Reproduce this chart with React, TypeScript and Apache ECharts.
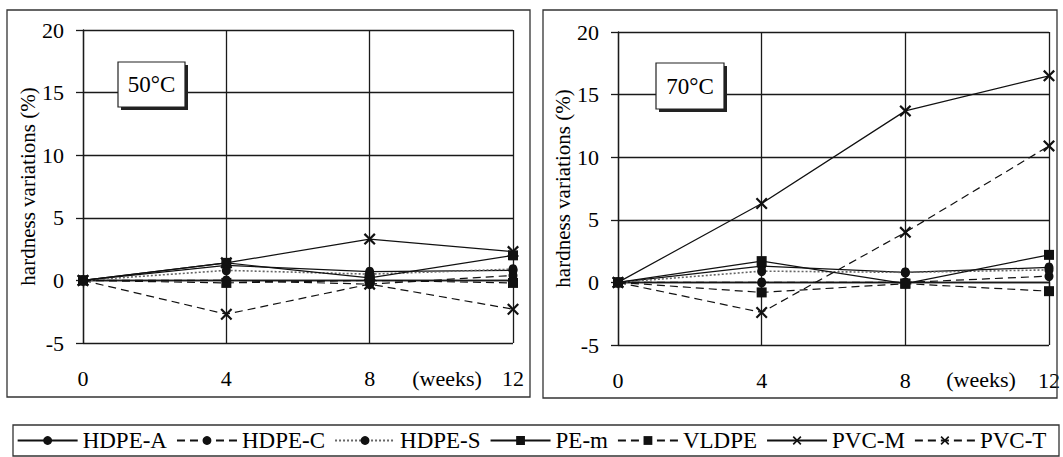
import React, { useEffect, useRef } from "react";
import * as echarts from "echarts";

// ---- data ----
const weeks = [0, 4, 8, 12];
const yTicks = [-5, 0, 5, 10, 15, 20];
const seriesNames = ["HDPE-A", "HDPE-C", "HDPE-S", "PE-m", "VLDPE", "PVC-M", "PVC-T"];

// 50 °C
const hdpeA50 = [0, 1.2, 0.7, 0.8];
const hdpeC50 = [0, 0.0, -0.3, 0.4];
const hdpeS50 = [0, 0.8, 0.5, 0.9];
const pem50 = [0, 1.4, 0.2, 2.0];
const vldpe50 = [0, -0.2, 0.0, -0.2];
const pvcM50 = [0, 1.4, 3.3, 2.3];
const pvcT50 = [0, -2.7, -0.3, -2.3];

// 70 °C
const hdpeA70 = [0, 1.3, 0.8, 1.2];
const hdpeC70 = [0, 0.0, 0.0, 0.5];
const hdpeS70 = [0, 0.9, 0.8, 1.0];
const pem70 = [0, 1.7, -0.1, 2.2];
const vldpe70 = [0, -0.8, -0.1, -0.7];
const pvcM70 = [0, 6.3, 13.7, 16.5];
const pvcT70 = [0, -2.4, 4.0, 10.9];

const panelTitles = ["50°C", "70°C"];
const xUnit = "(weeks)";
const yTitle = "hardness variations (%)";

const FONT = "Liberation Serif";
const X_SYMBOL =
  "path://M0,1.3 L1.3,0 L5,3.7 L8.7,0 L10,1.3 L6.3,5 L10,8.7 L8.7,10 L5,6.3 L1.3,10 L0,8.7 L3.7,5 Z";

const styles: Record<string, { line: any; symbol: string; size: any }> = {
  "HDPE-A": { line: { type: "solid", color: "#111", width: 1.2 }, symbol: "circle", size: [9, 10] },
  "HDPE-C": { line: { type: [8, 5], color: "#111", width: 1.2 }, symbol: "circle", size: [9, 10] },
  "HDPE-S": { line: { type: [2, 2], color: "#666", width: 1.6 }, symbol: "circle", size: [9, 10] },
  "PE-m": { line: { type: "solid", color: "#111", width: 1.2 }, symbol: "rect", size: 10 },
  VLDPE: { line: { type: [8, 5], color: "#111", width: 1.2 }, symbol: "rect", size: 10 },
  "PVC-M": { line: { type: "solid", color: "#111", width: 1.2 }, symbol: X_SYMBOL, size: 12 },
  "PVC-T": { line: { type: [8, 5], color: "#111", width: 1.2 }, symbol: X_SYMBOL, size: 12 },
};

const panels = [
  [hdpeA50, hdpeC50, hdpeS50, pem50, vldpe50, pvcM50, pvcT50],
  [hdpeA70, hdpeC70, hdpeS70, pem70, vldpe70, pvcM70, pvcT70],
];

export default function App() {
  const ref = useRef<HTMLDivElement>(null);

  useEffect(() => {
    if (!ref.current) return;
    const chart = echarts.init(ref.current, undefined, { renderer: "svg" });

    const gridDefs = [
      { left: 83, top: 30, width: 430, height: 313 },
      { left: 618, top: 32, width: 431, height: 313 },
    ];

    const axisColor = "#1a1a1a";

    const xAxis = gridDefs.map((_, i) => ({
      type: "value",
      gridIndex: i,
      min: 0,
      max: 12,
      interval: 4,
      axisLine: { show: true, lineStyle: { color: axisColor, width: 1.3 } },
      axisTick: { show: true, length: 7, lineStyle: { color: axisColor, width: 1.3 } },
      splitLine: { show: true, lineStyle: { color: axisColor, width: 1.3 } },
      axisLabel: {
        margin: 24,
        fontFamily: FONT,
        fontSize: 22,
        color: "#000",
        formatter: (v: number) => (weeks.includes(v) ? String(v) : ""),
      },
    }));

    const yAxis = gridDefs.map((_, i) => ({
      type: "value",
      gridIndex: i,
      min: yTicks[0],
      max: yTicks[yTicks.length - 1],
      interval: 5,
      name: yTitle,
      nameLocation: "middle",
      nameGap: 35,
      nameTextStyle: { fontFamily: FONT, fontSize: 21, color: "#000" },
      axisLine: { show: true, lineStyle: { color: axisColor, width: 1.3 } },
      axisTick: { show: true, length: 7, lineStyle: { color: axisColor, width: 1.3 } },
      splitLine: { show: true, lineStyle: { color: axisColor, width: 1.3 } },
      axisLabel: { margin: 19, fontFamily: FONT, fontSize: 22, color: "#000" },
    }));

    const series: any[] = [];
    panels.forEach((values, pi) => {
      values.forEach((vals, si) => {
        const name = seriesNames[si];
        const st = styles[name];
        series.push({
          type: "line",
          name,
          xAxisIndex: pi,
          yAxisIndex: pi,
          data: weeks.map((w, k) => [w, vals[k]]),
          symbol: st.symbol,
          symbolSize: st.size,
          showSymbol: true,
          lineStyle: st.line,
          itemStyle: { color: "#111", borderWidth: 0 },
          z: 3 + si,
        });
      });
    });

    const boxGraphic = (x: number, y: number, w: number, h: number, label: string) => ({
      type: "group",
      z: 100,
      children: [
        { type: "rect", shape: { x: x + 3, y: y + 3, width: w, height: h }, style: { fill: "#222" }, z: 100 },
        {
          type: "rect",
          shape: { x, y, width: w, height: h },
          style: { fill: "#fff", stroke: "#222", lineWidth: 1.2 },
          z: 101,
        },
        {
          type: "text",
          x: x + w / 2,
          y: y + h / 2,
          style: {
            text: label,
            fontFamily: FONT,
            fontSize: 23,
            fill: "#000",
            align: "center",
            verticalAlign: "middle",
          },
          z: 102,
        },
      ],
    });

    chart.setOption({
      animation: false,
      backgroundColor: "#fff",
      grid: gridDefs.map((g) => ({ ...g, containLabel: false })),
      xAxis,
      yAxis,
      legend: {
        data: seriesNames,
        left: "center",
        top: 429,
        itemWidth: 60,
        itemHeight: 11,
        itemGap: 9,
        padding: 0,
        textStyle: { fontFamily: FONT, fontSize: 23, color: "#000" },
        selectedMode: false,
      },
      graphic: [
        {
          type: "rect",
          shape: { x: 7, y: 10, width: 523, height: 387 },
          style: { fill: "none", stroke: "#333", lineWidth: 1.3 },
          z: 90,
          silent: true,
        },
        {
          type: "rect",
          shape: { x: 543, y: 10, width: 514, height: 388 },
          style: { fill: "none", stroke: "#333", lineWidth: 1.3 },
          z: 90,
          silent: true,
        },
        {
          type: "rect",
          shape: { x: 13, y: 425, width: 1046, height: 31 },
          style: { fill: "none", stroke: "#333", lineWidth: 1.3 },
          z: 90,
          silent: true,
        },
        boxGraphic(118, 62, 67, 45, panelTitles[0]),
        boxGraphic(656, 63, 68, 46, panelTitles[1]),
        {
          type: "text",
          x: 447,
          y: 378,
          style: { text: xUnit, fontFamily: FONT, fontSize: 22, fill: "#000", align: "center", verticalAlign: "middle" },
          z: 100,
        },
        {
          type: "text",
          x: 981,
          y: 379,
          style: { text: xUnit, fontFamily: FONT, fontSize: 22, fill: "#000", align: "center", verticalAlign: "middle" },
          z: 100,
        },
      ],
      series,
    });

    return () => chart.dispose();
  }, []);

  return (
    <div
      ref={ref}
      style={{ position: "absolute", left: 0, top: 0, width: 1063, height: 457, background: "#fff" }}
    />
  );
}
